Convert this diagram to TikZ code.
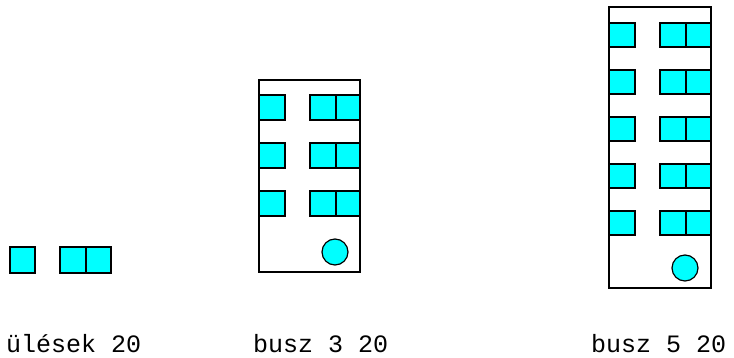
\documentclass[tikz,border=0pt]{standalone}
\usepackage{fontspec}
\newfontfamily\labelfont{Liberation Mono}
\usepackage{xcolor}
\definecolor{seatcyan}{HTML}{00FFFF}
\usepackage{tikz}

\begin{document}
\begin{tikzpicture}[x=1pt, y=-1pt,
  seat/.style={draw=black, fill=seatcyan, line width=1.2pt},
  hull/.style={draw=black, fill=white, line width=1.2pt},
  caption/.style={font=\labelfont\fontsize{25}{28}\selectfont, anchor=base west, inner sep=0pt}
]
  \useasboundingbox (0,0) rectangle (734,358);
  % loose seats
  \draw[seat] (10,247) rectangle (35,273);
  \draw[seat] (60,247) rectangle (111,273);
  \draw[seat] (86,247) -- (86,273);
  % bus with 3 rows
  \draw[hull] (259,80) rectangle (360,272);
  \foreach \y in {95,143,191}{
    \draw[seat] (259,\y) rectangle (285,{\y+25});
    \draw[seat] (310,\y) rectangle (360,{\y+25});
    \draw[seat] (336,\y) -- (336,{\y+25});
  }
  \draw[seat] (335,252) circle[radius=13pt];
  % bus with 5 rows
  \draw[hull] (609,7) rectangle (711,288);
  \foreach \y in {23,70,117,164,211}{
    \draw[seat] (609,\y) rectangle (635,{\y+24});
    \draw[seat] (660,\y) rectangle (711,{\y+24});
    \draw[seat] (686,\y) -- (686,{\y+24});
  }
  \draw[seat] (685,268) circle[radius=13pt];
  % captions
  \node[caption] (lbl-seats) at (6,352) {ülések 20};
  \node[caption] (lbl-bus3) at (253,352) {busz 3 20};
  \node[caption] (lbl-bus5) at (591,352) {busz 5 20};
\end{tikzpicture}
\end{document}
